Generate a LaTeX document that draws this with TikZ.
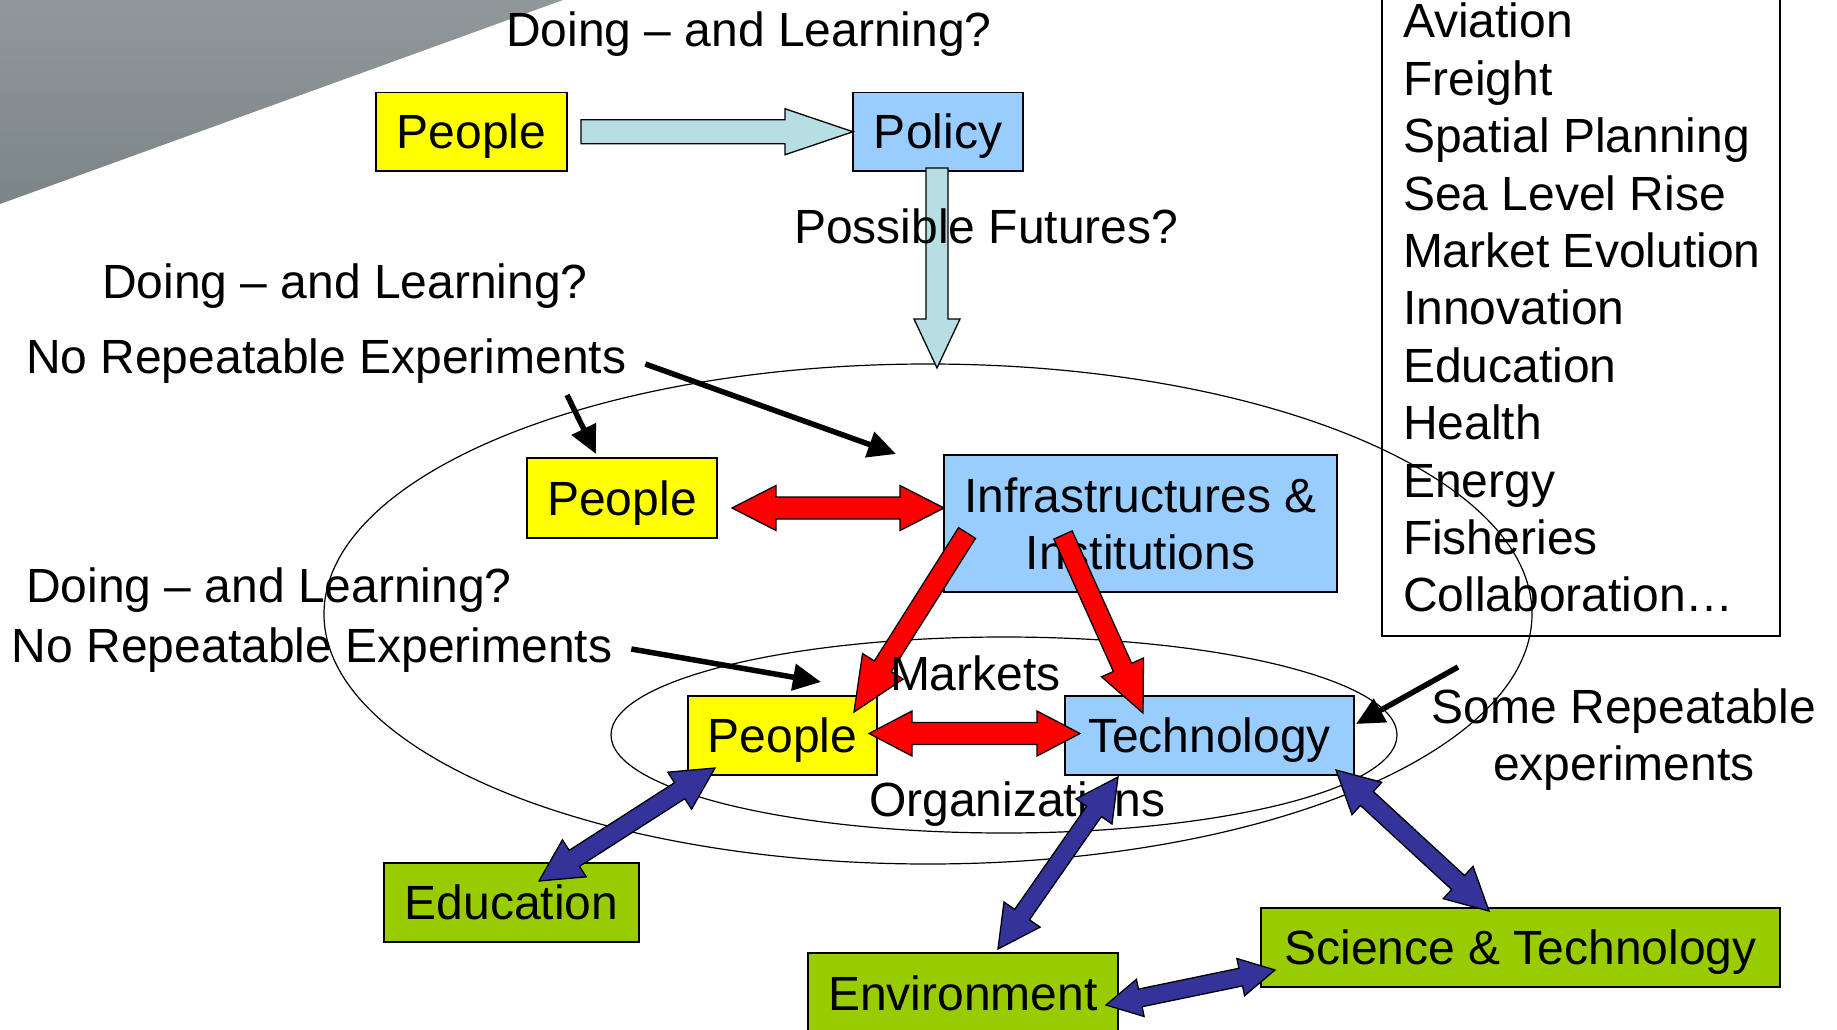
\documentclass[tikz,border=0pt]{standalone}
\usepackage{fontspec}
\setmainfont{Liberation Sans}
\usetikzlibrary{calc,shapes.geometric,arrows.meta}
\definecolor{boxyellow}{HTML}{FFFF00}
\definecolor{boxblue}{HTML}{99CCFF}
\definecolor{boxgreen}{HTML}{99CC00}
\definecolor{arrred}{HTML}{FF0000}
\definecolor{arrnavy}{HTML}{333399}
\definecolor{arrlight}{RGB}{183,222,226}
\definecolor{trilight}{RGB}{145,152,153}
\definecolor{tridark}{RGB}{124,133,134}
\newcommand{\blkarrow}[6]{%
  \coordinate (tmph) at ($(#3)!#6!(#2)$);
  \draw[#1] ($(#2)!#4!90:(#3)$) -- ($(tmph)!#4!90:(#3)$) -- ($(tmph)!#5!90:(#3)$) -- (#3)
    -- ($(tmph)!#5!-90:(#3)$) -- ($(tmph)!#4!-90:(#3)$) -- ($(#2)!#4!-90:(#3)$) -- cycle;}
\newcommand{\blkdarrow}[6]{%
  \coordinate (tmpa) at ($(#2)!#6!(#3)$);
  \coordinate (tmpb) at ($(#3)!#6!(#2)$);
  \draw[#1] (#2) -- ($(tmpa)!#5!90:(#3)$) -- ($(tmpa)!#4!90:(#3)$) -- ($(tmpb)!#4!90:(#3)$)
    -- ($(tmpb)!#5!90:(#3)$) -- (#3) -- ($(tmpb)!#5!-90:(#3)$) -- ($(tmpb)!#4!-90:(#3)$)
    -- ($(tmpa)!#4!-90:(#3)$) -- ($(tmpa)!#5!-90:(#3)$) -- cycle;}
\begin{document}
\begin{tikzpicture}[x=1pt,y=-1pt,
  every node/.style={inner sep=0pt, outer sep=0pt, font=\fontsize{48}{57.4}\selectfont},
  box/.style={draw=black, line width=1.8pt, text height=34.4pt, text depth=0pt},
  lbl/.style={anchor=base west},
  ell/.style={draw=black, line width=1.2pt, ellipse},
  karrow/.style={line width=5.5pt, -{Triangle[length=28pt,width=26pt]}},
  redarr/.style={fill=arrred, draw=black, line width=1.3pt},
  bluearr/.style={fill=arrnavy, draw=black, line width=1.3pt},
  lbarr/.style={fill=arrlight, draw=black, line width=1.3pt}]
\useasboundingbox (0,0) rectangle (1837,1030);
\clip (0,0) rectangle (1837,1030);
\fill[white] (0,0) rectangle (1837,1030);
\shade[top color=trilight, bottom color=tridark] (0,0) -- (563,0) -- (0,204) -- cycle;

% ellipses
\node[ell, minimum width=1208pt, minimum height=500pt] (outer) at (928,614) {};
\node[ell, minimum width=786pt, minimum height=196pt] (inner) at (1004,735) {};

% list box
\draw[line width=1.5pt] (1382,-10) rectangle (1780,636);
\node[anchor=base west] (list) at (1403,38) {\begin{tabular}[t]{@{}l@{}}Aviation\\Freight\\Spatial Planning\\Sea Level Rise\\Market Evolution\\Innovation\\Education\\Health\\Energy\\Fisheries\\Collaboration\dots\end{tabular}};

% labels
\node[lbl] (dl1) at (506,47) {Doing -- and Learning?};
\node[lbl] (dl2) at (102,298) {Doing -- and Learning?};
\node[lbl] (nre1) at (26,373) {No Repeatable Experiments};
\node[lbl] (dl3) at (26,602) {Doing -- and Learning?};
\node[lbl] (nre2) at (12,662) {No Repeatable Experiments};
\node[lbl] (org) at (869,816) {Organizations};
\node[anchor=base] (sre) at (1624,723) {\begin{tabular}[t]{@{}c@{}}Some Repeatable\\experiments\end{tabular}};

% boxes
\node[box, fill=boxyellow, minimum width=191pt, minimum height=78.5pt] (p1) at (471.5,131.75) {People};
\node[box, fill=boxblue, minimum width=170pt, minimum height=78.5pt] (policy) at (938,131.75) {Policy};
\node[box, fill=boxyellow, minimum width=190pt, minimum height=80pt] (p2) at (622,498) {People};
\node[box, fill=boxblue, minimum width=393pt, minimum height=137pt, text depth=57.4pt] (infra) at (1140.5,523.5) {\begin{tabular}[t]{@{}c@{}}Infrastructures \&\\Institutions\end{tabular}};
\node[box, fill=boxyellow, minimum width=189pt, minimum height=79pt] (p3) at (782.5,735.5) {People};
\node[box, fill=boxblue, minimum width=289pt, minimum height=79pt] (tech) at (1209.5,735.5) {Technology};
\node[box, fill=boxgreen, minimum width=255pt, minimum height=79pt] (edu) at (511.5,902.5) {Education};
\node[box, fill=boxgreen, minimum width=310pt, minimum height=80pt] (env) at (963,993) {Environment};
\node[box, fill=boxgreen, minimum width=519pt, minimum height=79pt] (sci) at (1520.5,947.5) {Science \& Technology};

% light blue arrows
\coordinate (lb1a) at ($(p1.east)+(14,0)$);
\blkarrow{lbarr}{lb1a}{policy.west}{12pt}{23pt}{68pt}
\coordinate (lb2a) at ($(policy.south)+(-1,-3)$);
\coordinate (lb2b) at ($(lb2a |- outer.north)+(0,4)$);
\blkarrow{lbarr}{lb2a}{lb2b}{11pt}{23pt}{49pt}
\node[lbl] (pf) at (794,243) {Possible Futures?};

% red arrows
\coordinate (r1a) at ($(p2.east)+(15,10)$);
\coordinate (r1b) at (r1a -| infra.west);
\blkdarrow{redarr}{r1a}{r1b}{11pt}{22.5pt}{44pt}
\coordinate (r2a) at ($(p3.east)+(-8,-2)$);
\coordinate (r2b) at ($(tech.west)+(15,-2)$);
\blkdarrow{redarr}{r2a}{r2b}{11pt}{22.5pt}{43pt}
\coordinate (r3a) at ($(infra.south west)+(23,-59)$);
\coordinate (r3b) at ($(p3.north east)+(-23,16)$);
\blkarrow{redarr}{r3a}{r3b}{10pt}{24pt}{54pt}
\coordinate (r4a) at ($(infra.south west)+(119,-57)$);
\coordinate (r4b) at ($(tech.north west)+(78,17)$);
\blkarrow{redarr}{r4a}{r4b}{10pt}{23pt}{50pt}
\node[lbl] (mk) at (890,690) {Markets};

% blue arrows
\coordinate (b1a) at ($(p3.south west)+(27,-7)$);
\coordinate (b1b) at ($(edu.north)+(27.5,18)$);
\blkdarrow{bluearr}{b1a}{b1b}{9.5pt}{22pt}{42pt}
\coordinate (b2a) at ($(tech.south west)+(53,2)$);
\coordinate (b2b) at ($(env.north)+(35,-4)$);
\blkdarrow{bluearr}{b2a}{b2b}{9pt}{22pt}{42pt}
\coordinate (b3a) at ($(tech.south east)+(-18,-5)$);
\coordinate (b3b) at ($(sci.north west)+(228,3)$);
\blkdarrow{bluearr}{b3a}{b3b}{9.5pt}{22pt}{42pt}
\coordinate (b4a) at ($(env.east)+(-12,12)$);
\coordinate (b4b) at ($(sci.south west)+(14,-17)$);
\blkdarrow{bluearr}{b4a}{b4b}{9pt}{19pt}{35pt}

% black arrows
\coordinate (k1) at ($(nre1.base east)+(19,-9)$);
\coordinate (k1e) at ($(infra.north west)+(-48,-1)$);
\draw[karrow] (k1) -- (k1e);
\coordinate (k2) at ($(p2.north west)+(40,-63)$);
\coordinate (k2e) at ($(p2.north west)+(69,-4)$);
\draw[karrow] (k2) -- (k2e);
\coordinate (k3) at ($(nre2.base east)+(19,-13)$);
\coordinate (k3e) at ($(p3.north west)+(133,-14)$);
\draw[karrow] (k3) -- (k3e);
\coordinate (k4) at ($(tech.east)+(104,-68.5)$);
\coordinate (k4e) at ($(tech.east)+(2,-11.5)$);
\draw[karrow] (k4) -- (k4e);
\end{tikzpicture}
\end{document}
